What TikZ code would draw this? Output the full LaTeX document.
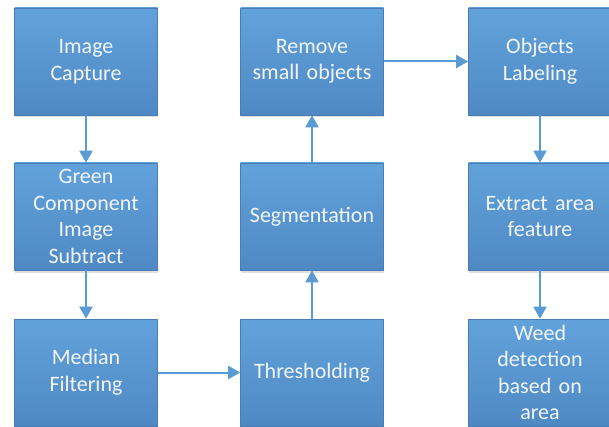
\documentclass[tikz,border=0pt]{standalone}
\usepackage{fontspec}
\setmainfont{Carlito}
\usetikzlibrary{arrows.meta,shadows}
\definecolor{boxtop}{HTML}{62A2DB}
\definecolor{boxbot}{HTML}{4F89C4}
\definecolor{boxline}{HTML}{4A7DB5}
\definecolor{arrowc}{HTML}{5B9BD5}
\definecolor{txt}{HTML}{F2F6FB}
\tikzset{
  procbox/.style={rectangle, minimum width=143pt, minimum height=107pt,
    inner sep=0pt, text width=140pt, align=center,
    top color=boxtop, bottom color=boxbot, draw=boxline, line width=0.6pt,
    text=txt, font=\fontsize{22}{26.5}\selectfont,
    drop shadow={shadow xshift=0pt, shadow yshift=-2.5pt, opacity=0.25, fill=black!50}},
  flow/.style={draw=arrowc, line width=2pt, -{Triangle[width=13pt,length=12pt]}}
}
\begin{document}
\begin{tikzpicture}[x=1pt,y=-1pt]
\useasboundingbox[fill=white] (0,0) rectangle (609,427);
\node[procbox] (cap) at (86,61.5) {Image\\Capture};
\node[procbox] (green) at (86,216.5) {Green\\Component\\Image\\Subtract};
\node[procbox] (med) at (86,372.5) {Median\\Filtering};
\node[procbox] (thr) at (312,372.5) {Thresholding};
\node[procbox] (seg) at (312,216.5) {Segmentation};
\node[procbox] (rem) at (312,61.5) {Remove\\small objects};
\node[procbox] (lab) at (540,61.5) {Objects\\Labeling};
\node[procbox] (ext) at (540,216.5) {Extract area\\feature};
\node[procbox] (weed) at (540,372.5) {Weed\\detection\\based on\\area};
\draw[flow] (cap) -- (green);
\draw[flow] (green) -- (med);
\draw[flow] (med) -- (thr);
\draw[flow] (thr) -- (seg);
\draw[flow] (seg) -- (rem);
\draw[flow] (rem) -- (lab);
\draw[flow] (lab) -- (ext);
\draw[flow] (ext) -- (weed);
\end{tikzpicture}
\end{document}
